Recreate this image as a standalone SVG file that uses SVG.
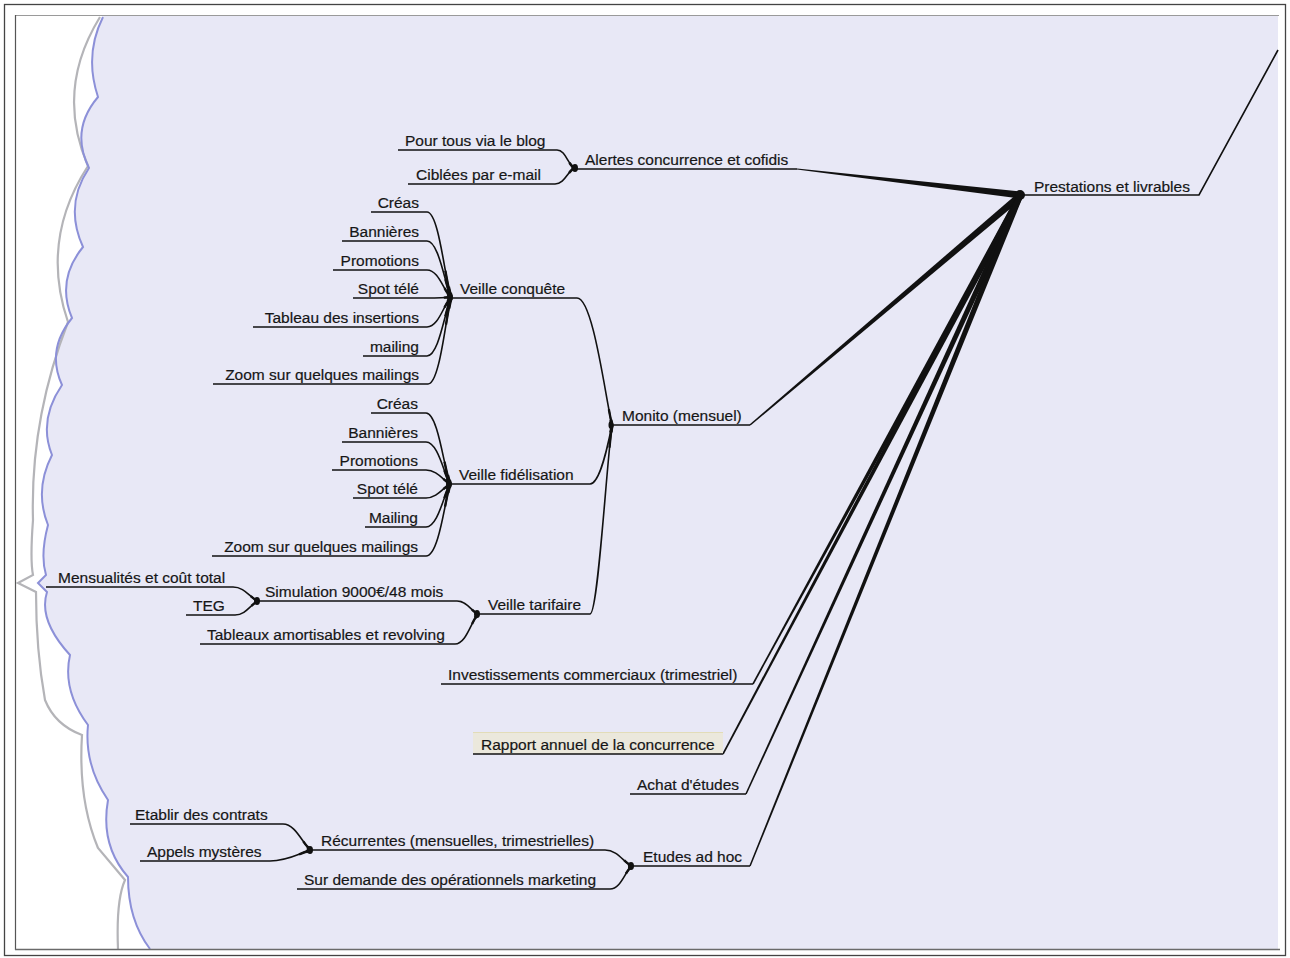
<svg xmlns="http://www.w3.org/2000/svg" xmlns:xlink="http://www.w3.org/1999/xlink" width="1290" height="958" viewBox="0 0 1290 958">
<style>
text{font-family:"Liberation Sans",Arial,sans-serif;font-size:15.5px;fill:#161616;stroke:#161616;stroke-width:0.2}
.ul{stroke:#111;stroke-width:1.6;fill:none}
.t1{stroke:#111;stroke-width:1.6;fill:none}
.t2{stroke:#111;stroke-width:2.4;fill:none;stroke-dasharray:0 70 30}
.t3{stroke:#111;stroke-width:3.4;fill:none;stroke-dasharray:0 88 12}
.m2{stroke:#111;stroke-width:2.3;fill:none;stroke-dasharray:0 88 12}
.m3{stroke:#111;stroke-width:3.2;fill:none;stroke-dasharray:0 96 4}
.hub{fill:#111}
.blob{fill:#111}
</style>
<defs>
<path id="cA1" pathLength="100" d="M557,150 C566,150 568,166 575,168"/>
<path id="cA2" pathLength="100" d="M555,184 C565,184 568,170 575,168"/>
<path id="cC1" pathLength="100" d="M427,212 C439,212 445,280 451,297"/>
<path id="cC2" pathLength="100" d="M427,241 C439,241 445,285 451,297"/>
<path id="cC3" pathLength="100" d="M427,270 C439,270 444,292 451,297"/>
<path id="cC4" pathLength="100" d="M427,298 C435,298 443,298 451,297"/>
<path id="cC5" pathLength="100" d="M427,327 C439,327 444,303 451,298"/>
<path id="cC6" pathLength="100" d="M427,356 C439,356 445,310 451,298"/>
<path id="cC7" pathLength="100" d="M428,384 C440,384 446,315 451,298"/>
<path id="cF1" pathLength="100" d="M426,413 C438,413 444,468 450,484"/>
<path id="cF2" pathLength="100" d="M426,442 C438,442 444,474 450,484"/>
<path id="cF3" pathLength="100" d="M426,470 C437,470 443,480 450,484"/>
<path id="cF4" pathLength="100" d="M426,498 C437,498 443,488 450,484"/>
<path id="cF5" pathLength="100" d="M426,527 C438,527 444,494 450,484"/>
<path id="cF6" pathLength="100" d="M426,556 C439,556 445,500 450,484"/>
<path id="cM1" pathLength="100" d="M577,298 C593,298 605,395 612,425"/>
<path id="cM2" pathLength="100" d="M590,484 C600,484 608,445 612,425"/>
<path id="cM3" pathLength="100" d="M590,614 C598,614 606,470 612,425"/>
<path id="cS1" pathLength="100" d="M233,587 C245,587 250,598 258,601"/>
<path id="cS2" pathLength="100" d="M235,615 C246,615 251,604 258,601"/>
<path id="cT1" pathLength="100" d="M457,601 C467,601 471,611 478,614"/>
<path id="cT2" pathLength="100" d="M455,644 C466,644 471,622 478,614"/>
<path id="cR1" pathLength="100" d="M283,824 C296,824 303,845 311,850"/>
<path id="cR2" pathLength="100" d="M270,861 C288,861 300,853 311,850"/>
<path id="cE1" pathLength="100" d="M605,850 C618,850 624,863 632,866"/>
<path id="cE2" pathLength="100" d="M610,889 C621,889 625,871 632,866"/>
</defs>

<g id="background">
<rect x="0" y="0" width="1290" height="958" fill="#ffffff"/>
<path d="M103,16 L1278,16 L1278,949 L150,949 Q128,920 128,877 Q100,845 108,800 Q84,765 88,725 Q62,690 70,655 Q38,620 47,592 L38,583 L46,575 Q40,555 48,525 Q34,490 52,455 Q38,420 62,385 Q46,350 72,318 Q56,280 83,247 Q64,205 89,168 Q70,130 98,97 Q84,55 103,17 Z" fill="#e8e8f6"/>
<path d="M100,17 Q55,90 88,166 Q40,240 68,322 Q30,420 33,520 Q30,560 33,575 L18,583 L36,592 Q36,650 45,700 Q55,725 82,735 Q78,800 98,848 L125,880 Q116,900 118,949" fill="none" stroke="#b4b4b8" stroke-width="2.2"/>
<path d="M103,17 Q84,55 98,97 Q70,130 89,168 Q64,205 83,247 Q56,280 72,318 Q46,350 62,385 Q38,420 52,455 Q34,490 48,525 Q40,555 46,575 L38,583 L47,592 Q38,620 70,655 Q62,690 88,725 Q84,765 108,800 Q100,845 128,877 Q128,920 150,949" fill="none" stroke="#8c90d8" stroke-width="2"/>
<rect x="4.5" y="4.5" width="1281" height="951" fill="none" stroke="#444" stroke-width="1.3"/>
<line x1="15" y1="15.5" x2="1279" y2="15.5" stroke="#9a9a9a" stroke-width="1"/>
<line x1="15.5" y1="15" x2="15.5" y2="950" stroke="#555" stroke-width="1.2"/>
<line x1="15" y1="949.5" x2="1280" y2="949.5" stroke="#6a6a6a" stroke-width="1.3"/>
</g>

<g id="connectors">
<polygon class="hub" points="796.9,169.6 1019.6,198.5 1020.4,191.5 797.1,168.4"/>
<polygon class="hub" points="750.5,425.6 1022.3,198.7 1017.7,193.3 749.5,424.4"/>
<polygon class="hub" points="753.7,684.4 1022.6,197.4 1017.4,194.6 752.3,683.6"/>
<polygon class="hub" points="723.7,754.4 1022.6,197.4 1017.4,194.6 722.3,753.6"/>
<polygon class="hub" points="746.7,794.3 1022.7,197.2 1017.3,194.8 745.3,793.7"/>
<polygon class="hub" points="750.7,866.3 1022.8,197.1 1017.2,194.9 749.3,865.7"/>
<ellipse class="blob" cx="1020" cy="195" rx="5" ry="5"/>
<path class="ul" d="M1022,195 H1199 L1278,50"/>
<g id="curves">
<use xlink:href="#cA1" class="t1"/><use xlink:href="#cA1" class="t2"/><use xlink:href="#cA1" class="t3"/>
<use xlink:href="#cA2" class="t1"/><use xlink:href="#cA2" class="t2"/><use xlink:href="#cA2" class="t3"/>
<use xlink:href="#cC1" class="t1"/><use xlink:href="#cC1" class="t2"/><use xlink:href="#cC1" class="t3"/>
<use xlink:href="#cC2" class="t1"/><use xlink:href="#cC2" class="t2"/><use xlink:href="#cC2" class="t3"/>
<use xlink:href="#cC3" class="t1"/><use xlink:href="#cC3" class="t2"/><use xlink:href="#cC3" class="t3"/>
<use xlink:href="#cC4" class="t1"/><use xlink:href="#cC4" class="t2"/><use xlink:href="#cC4" class="t3"/>
<use xlink:href="#cC5" class="t1"/><use xlink:href="#cC5" class="t2"/><use xlink:href="#cC5" class="t3"/>
<use xlink:href="#cC6" class="t1"/><use xlink:href="#cC6" class="t2"/><use xlink:href="#cC6" class="t3"/>
<use xlink:href="#cC7" class="t1"/><use xlink:href="#cC7" class="t2"/><use xlink:href="#cC7" class="t3"/>
<use xlink:href="#cF1" class="t1"/><use xlink:href="#cF1" class="t2"/><use xlink:href="#cF1" class="t3"/>
<use xlink:href="#cF2" class="t1"/><use xlink:href="#cF2" class="t2"/><use xlink:href="#cF2" class="t3"/>
<use xlink:href="#cF3" class="t1"/><use xlink:href="#cF3" class="t2"/><use xlink:href="#cF3" class="t3"/>
<use xlink:href="#cF4" class="t1"/><use xlink:href="#cF4" class="t2"/><use xlink:href="#cF4" class="t3"/>
<use xlink:href="#cF5" class="t1"/><use xlink:href="#cF5" class="t2"/><use xlink:href="#cF5" class="t3"/>
<use xlink:href="#cF6" class="t1"/><use xlink:href="#cF6" class="t2"/><use xlink:href="#cF6" class="t3"/>
<use xlink:href="#cM1" class="t1"/><use xlink:href="#cM1" class="m2"/><use xlink:href="#cM1" class="m3"/>
<use xlink:href="#cM2" class="t1"/><use xlink:href="#cM2" class="m2"/><use xlink:href="#cM2" class="m3"/>
<use xlink:href="#cM3" class="t1"/><use xlink:href="#cM3" class="m2"/><use xlink:href="#cM3" class="m3"/>
<use xlink:href="#cS1" class="t1"/><use xlink:href="#cS1" class="t2"/><use xlink:href="#cS1" class="t3"/>
<use xlink:href="#cS2" class="t1"/><use xlink:href="#cS2" class="t2"/><use xlink:href="#cS2" class="t3"/>
<use xlink:href="#cT1" class="t1"/><use xlink:href="#cT1" class="t2"/><use xlink:href="#cT1" class="t3"/>
<use xlink:href="#cT2" class="t1"/><use xlink:href="#cT2" class="t2"/><use xlink:href="#cT2" class="t3"/>
<use xlink:href="#cR1" class="t1"/><use xlink:href="#cR1" class="t2"/><use xlink:href="#cR1" class="t3"/>
<use xlink:href="#cR2" class="t1"/><use xlink:href="#cR2" class="t2"/><use xlink:href="#cR2" class="t3"/>
<use xlink:href="#cE1" class="t1"/><use xlink:href="#cE1" class="t2"/><use xlink:href="#cE1" class="t3"/>
<use xlink:href="#cE2" class="t1"/><use xlink:href="#cE2" class="t2"/><use xlink:href="#cE2" class="t3"/>
</g>
<ellipse class="blob" cx="575" cy="168" rx="3" ry="4"/>
<ellipse class="blob" cx="450" cy="297" rx="3" ry="5"/>
<ellipse class="blob" cx="449" cy="484" rx="3" ry="5"/>
<ellipse class="blob" cx="611" cy="425" rx="2.5" ry="4"/>
<ellipse class="blob" cx="257" cy="601" rx="3" ry="4"/>
<ellipse class="blob" cx="477" cy="614" rx="3" ry="4"/>
<ellipse class="blob" cx="310" cy="850" rx="3" ry="4"/>
<ellipse class="blob" cx="631" cy="866" rx="3" ry="4"/>
</g>

<g id="n-root"><text x="1034" y="192">Prestations et livrables</text></g>
<g id="n-alertes"><path class="ul" d="M575,169 H797"/><text x="585" y="165">Alertes concurrence et cofidis</text></g>
<g id="n-blog"><path class="ul" d="M398,150 H557"/><text x="405" y="146">Pour tous via le blog</text></g>
<g id="n-email"><path class="ul" d="M408,184 H555"/><text x="416" y="180">Ciblées par e-mail</text></g>

<g id="n-monito"><path class="ul" d="M612,425 H750"/><text x="622" y="421">Monito (mensuel)</text></g>
<g id="n-conquete"><path class="ul" d="M451,298 H577"/><text x="460" y="294">Veille conquête</text></g>
<g id="n-c-creas"><path class="ul" d="M371,212 H427"/><text x="419" y="208" text-anchor="end">Créas</text></g>
<g id="n-c-bannieres"><path class="ul" d="M342,241 H427"/><text x="419" y="237" text-anchor="end">Bannières</text></g>
<g id="n-c-promotions"><path class="ul" d="M333,270 H427"/><text x="419" y="266" text-anchor="end">Promotions</text></g>
<g id="n-c-spot"><path class="ul" d="M353,298 H427"/><text x="419" y="294" text-anchor="end">Spot télé</text></g>
<g id="n-c-tableau"><path class="ul" d="M253,327 H427"/><text x="419" y="323" text-anchor="end">Tableau des insertions</text></g>
<g id="n-c-mailing"><path class="ul" d="M363,356 H427"/><text x="419" y="352" text-anchor="end">mailing</text></g>
<g id="n-c-zoom"><path class="ul" d="M213,384 H428"/><text x="419" y="380" text-anchor="end">Zoom sur quelques mailings</text></g>

<g id="n-fidelisation"><path class="ul" d="M450,484 H590"/><text x="459" y="480">Veille fidélisation</text></g>
<g id="n-f-creas"><path class="ul" d="M371,413 H426"/><text x="418" y="409" text-anchor="end">Créas</text></g>
<g id="n-f-bannieres"><path class="ul" d="M342,442 H426"/><text x="418" y="438" text-anchor="end">Bannières</text></g>
<g id="n-f-promotions"><path class="ul" d="M332,470 H426"/><text x="418" y="466" text-anchor="end">Promotions</text></g>
<g id="n-f-spot"><path class="ul" d="M353,498 H426"/><text x="418" y="494" text-anchor="end">Spot télé</text></g>
<g id="n-f-mailing"><path class="ul" d="M365,527 H426"/><text x="418" y="523" text-anchor="end">Mailing</text></g>
<g id="n-f-zoom"><path class="ul" d="M212,556 H426"/><text x="418" y="552" text-anchor="end">Zoom sur quelques mailings</text></g>

<g id="n-tarifaire"><path class="ul" d="M478,614 H590"/><text x="488" y="610">Veille tarifaire</text></g>
<g id="n-simulation"><path class="ul" d="M258,601 H457"/><text x="265" y="597">Simulation 9000€/48 mois</text></g>
<g id="n-tableaux"><path class="ul" d="M200,644 H455"/><text x="207" y="640">Tableaux amortisables et revolving</text></g>
<g id="n-mensualites"><path class="ul" d="M46,587 H233"/><text x="58" y="583">Mensualités et coût total</text></g>
<g id="n-teg"><path class="ul" d="M186,615 H235"/><text x="193" y="611">TEG</text></g>

<g id="n-invest"><path class="ul" d="M441,684 H753"/><text x="448" y="680">Investissements commerciaux (trimestriel)</text></g>
<g id="n-rapport"><rect x="473" y="732" width="250" height="22" fill="#ebe8dc"/><line x1="473" y1="732.5" x2="723" y2="732.5" stroke="#e2dcb8" stroke-width="1"/><path class="ul" d="M473,754 H723"/><text x="481" y="750">Rapport annuel de la concurrence</text></g>
<g id="n-achat"><path class="ul" d="M630,794 H746"/><text x="637" y="790">Achat d'études</text></g>

<g id="n-etudes"><path class="ul" d="M632,866 H750"/><text x="643" y="862">Etudes ad hoc</text></g>
<g id="n-recurrentes"><path class="ul" d="M311,850 H605"/><text x="321" y="846">Récurrentes (mensuelles, trimestrielles)</text></g>
<g id="n-demande"><path class="ul" d="M297,889 H610"/><text x="304" y="885">Sur demande des opérationnels marketing</text></g>
<g id="n-contrats"><path class="ul" d="M130,824 H283"/><text x="135" y="820">Etablir des contrats</text></g>
<g id="n-appels"><path class="ul" d="M140,861 H270"/><text x="147" y="857">Appels mystères</text></g>
</svg>
